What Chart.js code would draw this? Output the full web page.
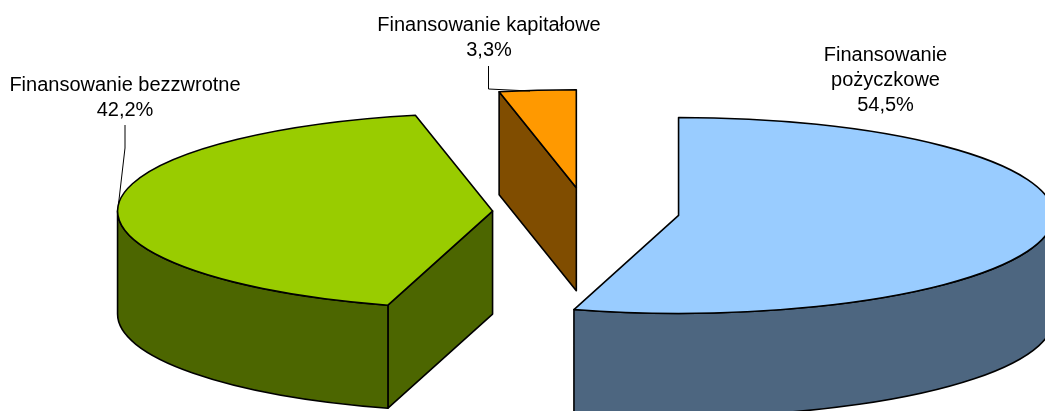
<!DOCTYPE html>
<html>
<head>
<meta charset="utf-8">
<title>Finansowanie</title>
<script src="https://cdn.jsdelivr.net/npm/chart.js@4"></script>
<style>
  html, body { margin: 0; padding: 0; background: #fff; overflow: hidden; }
  canvas { display: block; }
</style>
</head>
<body>
<canvas id="wykres" width="1045" height="411"></canvas>
<script>
const kategorie = ["Finansowanie pożyczkowe", "Finansowanie bezzwrotne", "Finansowanie kapitałowe"];
const wierszeEtykiet = [["Finansowanie", "pożyczkowe"], ["Finansowanie bezzwrotne"], ["Finansowanie kapitałowe"]];
const udzialy = [54.5, 42.2, 3.3];

const koloryGora = ["#99CCFF", "#99CC00", "#FF9900"];
const koloryBok = ["#4D6680", "#4C6600", "#804D00"];

// geometria "3D": spłaszczenie koła, wysokość bryły, odsunięcie wycinków
const splaszczenie = 98 / 375;
const wysokosc = 103;
const odsuniecie = 93.5;

// środki etykiet i linie odniesienia
const pozycjeEtykiet = [[885.5, 55], [125, 85], [489, 25]];
const linieOdniesienia = [
  [],
  [[125, 125], [125, 148], [118.5, 204]],
  [[488.5, 66], [488.5, 89], [530, 91]],
];

function srodekWycinka(arc) {
  const pol = (arc.startAngle + arc.endAngle) / 2;
  return {
    x: arc.x + Math.cos(pol) * odsuniecie,
    y: arc.y + Math.sin(pol) * odsuniecie * splaszczenie,
    rx: arc.outerRadius,
    ry: arc.outerRadius * splaszczenie,
  };
}

function punkt(s, kat, dol) {
  return [s.x + Math.cos(kat) * s.rx, s.y + Math.sin(kat) * s.ry + dol];
}

function scianaBoczna(ctx, s, kat) {
  const p = punkt(s, kat, 0);
  ctx.beginPath();
  ctx.moveTo(s.x, s.y);
  ctx.lineTo(p[0], p[1]);
  ctx.lineTo(p[0], p[1] + wysokosc);
  ctx.lineTo(s.x, s.y + wysokosc);
  ctx.closePath();
  ctx.fill();
  ctx.stroke();
}

function rysujWycinek(ctx, arc, i) {
  const s = srodekWycinka(arc);

  ctx.save();
  ctx.fillStyle = koloryBok[i];
  ctx.strokeStyle = "#000";
  ctx.lineWidth = 1.6;
  ctx.lineJoin = "round";

  // ściany przy cięciu - tylko te zwrócone do widza
  if (Math.cos(arc.startAngle) < -0.001) scianaBoczna(ctx, s, arc.startAngle);
  if (Math.cos(arc.endAngle) > 0.001) scianaBoczna(ctx, s, arc.endAngle);

  // zewnętrzna ściana, tylko dolna połowa elipsy
  const od = Math.max(arc.startAngle, 0);
  const dO = Math.min(arc.endAngle, Math.PI);
  if (dO > od) {
    ctx.beginPath();
    ctx.ellipse(s.x, s.y, s.rx, s.ry, 0, od, dO);
    ctx.ellipse(s.x, s.y + wysokosc, s.rx, s.ry, 0, dO, od, true);
    ctx.closePath();
    ctx.fill();
    ctx.stroke();
  }

  // górna powierzchnia rysowana przez element Chart.js
  ctx.save();
  ctx.translate(s.x, s.y);
  ctx.scale(1, splaszczenie);
  ctx.translate(-arc.x, -arc.y);
  arc.draw(ctx);
  ctx.restore();

  ctx.beginPath();
  ctx.moveTo(s.x, s.y);
  ctx.ellipse(s.x, s.y, s.rx, s.ry, 0, arc.startAngle, arc.endAngle);
  ctx.closePath();
  ctx.stroke();
  ctx.restore();
}

const pie3d = {
  id: "pie3d",
  beforeDatasetsDraw(chart) {
    const ctx = chart.ctx;
    chart.getDatasetMeta(0).data.forEach((arc, i) => rysujWycinek(ctx, arc, i));
    return false; // zwykłego rysowania nie chcemy
  },
  afterDraw(chart) {
    const ctx = chart.ctx;
    ctx.save();
    ctx.strokeStyle = "#000";
    ctx.lineWidth = 1;
    linieOdniesienia.forEach((linia) => {
      if (!linia.length) return;
      ctx.beginPath();
      linia.forEach((p, n) => (n ? ctx.lineTo(p[0], p[1]) : ctx.moveTo(p[0], p[1])));
      ctx.stroke();
    });

    ctx.fillStyle = "#000";
    ctx.font = '20px "Liberation Sans", Arial, sans-serif';
    ctx.textAlign = "center";
    ctx.textBaseline = "middle";
    kategorie.forEach((kat, i) => {
      const tekst = [...wierszeEtykiet[i], udzialy[i].toFixed(1).replace(".", ",") + "%"];
      tekst.forEach((w, n) => ctx.fillText(w, pozycjeEtykiet[i][0], pozycjeEtykiet[i][1] + n * 25));
    });
    ctx.restore();
  },
};

new Chart(document.getElementById("wykres"), {
  type: "pie",
  data: {
    labels: kategorie,
    datasets: [{ data: udzialy, backgroundColor: koloryGora, borderWidth: 0, radius: 375 }],
  },
  options: {
    responsive: false,
    animation: false,
    layout: { padding: { left: 127, top: 13 } },
    plugins: { legend: { display: false }, tooltip: { enabled: false } },
  },
  plugins: [pie3d],
});
</script>
</body>
</html>
